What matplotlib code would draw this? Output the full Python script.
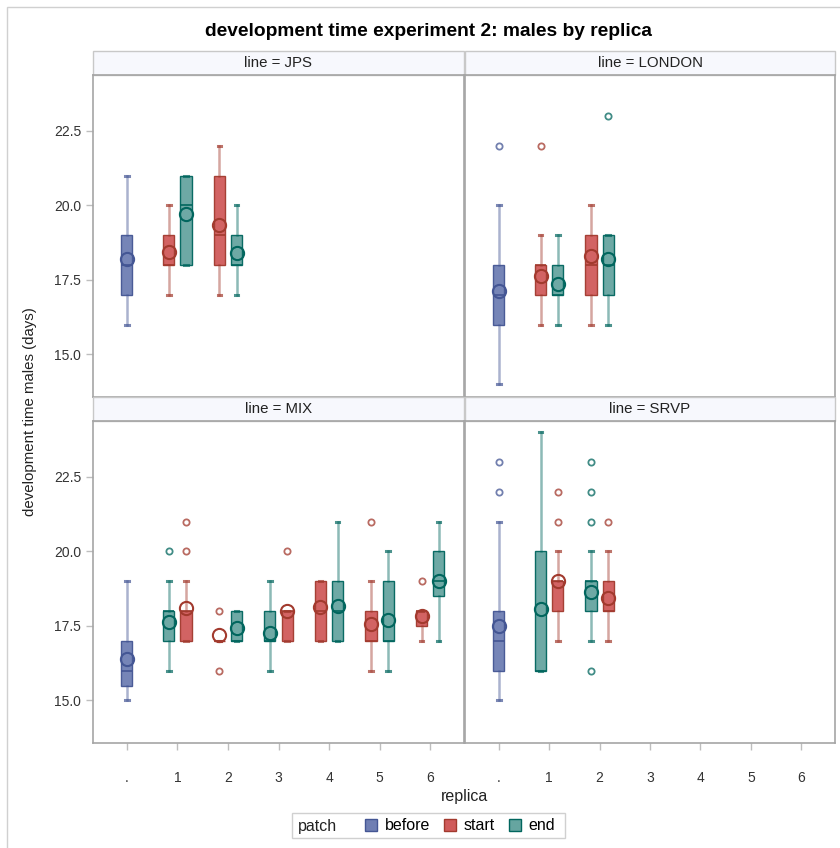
import numpy as np
import matplotlib.pyplot as plt
from matplotlib.patches import Rectangle, Patch

plt.rcParams['font.family'] = ['Liberation Sans', 'DejaVu Sans']

# panels and categories
line_names = ['JPS', 'LONDON', 'MIX', 'SRVP']
replicas = ['.', '1', '2', '3', '4', '5', '6']
patch_names = ['before', 'start', 'end']

# one entry per box, in the order the boxes sit inside a replica slot
box_line = ['JPS'] * 5 + ['LONDON'] * 5 + ['MIX'] * 13 + ['SRVP'] * 5
box_rep = ['.', '1', '1', '2', '2',
           '.', '1', '1', '2', '2',
           '.', '1', '1', '2', '2', '3', '3', '4', '4', '5', '5', '6', '6',
           '.', '1', '1', '2', '2']
box_patch = ['before', 'start', 'end', 'start', 'end',
             'before', 'start', 'end', 'start', 'end',
             'before', 'end', 'start', 'start', 'end', 'end', 'start',
             'start', 'end', 'start', 'end', 'start', 'end',
             'before', 'end', 'start', 'end', 'start']

whislo = [16, 17, 18, 17, 17,
          14, 16, 16, 16, 16,
          15, 16, 17, 17, 17, 16, 17, 17, 17, 16, 16, 17, 17,
          15, 16, 17, 17, 17]
q1 = [17, 18, 18, 18, 18,
      16, 17, 17, 17, 17,
      15.5, 17, 17, 17, 17, 17, 17, 17, 17, 17, 17, 17.5, 18.5,
      16, 16, 18, 18, 18]
med = [18, 18, 20, 19, 18,
       17, 18, 17, 18, 18,
       16, 18, 18, 17, 17, 17, 18, 18, 18, 17, 17, 18, 19,
       17, 16, 19, 19, 18]
q3 = [19, 19, 21, 21, 19,
      18, 18, 18, 19, 19,
      17, 18, 18, 17, 18, 18, 18, 19, 19, 18, 19, 18, 20,
      18, 20, 19, 19, 19]
whishi = [21, 20, 21, 22, 20,
          20, 19, 19, 20, 19,
          19, 19, 19, 17, 18, 19, 18, 19, 21, 19, 20, 18, 21,
          21, 24, 20, 20, 20]
means = [18.2, 18.45, 19.7, 19.35, 18.42,
         17.12, 17.62, 17.35, 18.3, 18.2,
         16.4, 17.62, 18.1, 17.2, 17.42, 17.25, 18.0, 18.15, 18.18, 17.55, 17.7, 17.85, 19.0,
         17.5, 18.08, 19.0, 18.65, 18.45]
outliers = [[], [], [], [], [],
            [22], [22], [], [], [23],
            [], [20], [20, 21], [16, 18], [], [], [20], [], [], [21], [], [19], [],
            [22, 23], [], [21, 22], [16, 21, 22, 23], [21]]

fill_col = {'before': '#6F7EB3', 'start': '#D05B5B', 'end': '#66A5A0'}
line_col = {'before': '#445694', 'start': '#A23A2E', 'end': '#01665E'}

W, H = 840, 848
fig = plt.figure(figsize=(W / 100, H / 100), dpi=100)

# faint outer frame (left / top edges)
fig.patches.append(Rectangle((7 / W, -0.1), 1.2, 1.1 - 7 / H, transform=fig.transFigure,
                             facecolor='none', edgecolor='#D0D0D0', lw=1))

ax_pos = {
    'JPS': [93 / W, (H - 397) / H, 371 / W, 322 / H],
    'LONDON': [465 / W, (H - 397) / H, 370 / W, 322 / H],
    'MIX': [93 / W, (H - 743) / H, 371 / W, 322 / H],
    'SRVP': [465 / W, (H - 743) / H, 370 / W, 322 / H],
}

spine_col = '#A5A5A5'
for name in line_names:
    ax = fig.add_axes(ax_pos[name])
    idx = [i for i, l in enumerate(box_line) if l == name]
    for i in idx:
        slot = [j for j in idx if box_rep[j] == box_rep[i]]
        k = slot.index(i)
        off = 0.0 if len(slot) == 1 else (-0.17 if k == 0 else 0.17)
        pos = replicas.index(box_rep[i]) + off
        p = box_patch[i]
        st = dict(med=med[i], q1=q1[i], q3=q3[i], whislo=whislo[i], whishi=whishi[i],
                  mean=means[i], fliers=np.array(outliers[i], dtype=float))
        ax.bxp([st], positions=[pos], widths=0.22, capwidths=0.07, showmeans=True,
               patch_artist=True, manage_ticks=False,
               boxprops=dict(facecolor=fill_col[p], edgecolor=line_col[p], lw=1.0, alpha=0.95),
               medianprops=dict(color=line_col[p], lw=1.2),
               whiskerprops=dict(color=line_col[p], lw=1.8, alpha=0.45),
               capprops=dict(color=line_col[p], lw=2.2, alpha=0.7),
               meanprops=dict(marker='o', markerfacecolor='none', markeredgecolor=line_col[p],
                              markersize=9.5, markeredgewidth=1.5),
               flierprops=dict(marker='o', markerfacecolor='none', markeredgecolor=line_col[p],
                               markersize=4.5, markeredgewidth=1.3, alpha=0.75))
    ax.set_xlim(-0.67, 6.67)
    ax.set_ylim(13.57, 24.38)
    ax.set_yticks([15, 17.5, 20, 22.5])
    ax.set_xticks(range(len(replicas)))
    ax.set_xticklabels(replicas)
    ax.set_yticklabels(['15.0', '17.5', '20.0', '22.5'])
    for s in ax.spines.values():
        s.set_color(spine_col)
        s.set_linewidth(1.2)
    ax.tick_params(colors='#BEBEBE', labelcolor='#333333', labelsize=10, length=5, width=1)
    ax.tick_params(axis='x', pad=15)
    if name in ('LONDON', 'SRVP'):
        ax.tick_params(axis='y', left=False, labelleft=False)
    if name in ('JPS', 'LONDON'):
        ax.tick_params(axis='x', bottom=False, labelbottom=False)
    # strip header
    ax.add_patch(Rectangle((0, 1.0), 1, 24 / 322, transform=ax.transAxes, clip_on=False,
                           facecolor='#F7F8FD', edgecolor='#C8C8C8', lw=1))
    ax.text(0.5, 1.0 + 12 / 322, 'line = ' + name, transform=ax.transAxes,
            ha='center', va='center', fontsize=10.8, color='#222222')

fig.text(428 / W, (H - 32) / H, 'development time experiment 2: males by replica',
         ha='center', va='center', fontsize=13.8, fontweight='bold')
fig.text(30 / W, (H - 412) / H, 'development time males (days)', rotation=90,
         ha='center', va='center', fontsize=10.8, color='#222222')
fig.text(464 / W, (H - 797) / H, 'replica', ha='center', va='center', fontsize=11.5,
         color='#222222')

# legend
fig.patches.append(Rectangle((292 / W, (H - 838) / H), 273 / W, 25 / H, transform=fig.transFigure,
                             facecolor='white', edgecolor='#D0D0D0', lw=1))
fig.text(298 / W, (H - 826) / H, 'patch', ha='left', va='center', fontsize=11.5, color='#222222')
handles = [Patch(facecolor=fill_col[p], edgecolor=line_col[p]) for p in patch_names]
fig.legend(handles, patch_names, loc='center left', bbox_to_anchor=(365 / W, (H - 826) / H),
           ncol=3, frameon=False, handlelength=0.75, handleheight=0.75, handletextpad=0.5,
           columnspacing=0.85, fontsize=11.5, borderpad=0, borderaxespad=0)

fig.savefig('out.png', dpi=100)
